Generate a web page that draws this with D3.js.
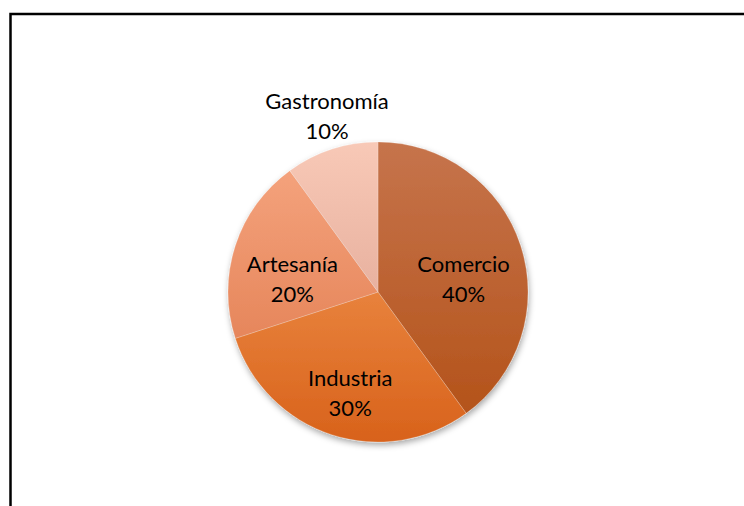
<!DOCTYPE html>
<html>
<head>
<meta charset="utf-8">
<script src="https://cdn.jsdelivr.net/npm/d3@7"></script>
<style>
  html, body { margin: 0; padding: 0; background: #fff; }
  svg { display: block; }
  .label { font-family: Lato, "Noto Sans", sans-serif; font-size: 22px; fill: #000; }
</style>
</head>
<body>
<svg id="chart"></svg>
<script>
// Data
const categories = ["Comercio", "Industria", "Artesanía", "Gastronomía"];
const shares = [40, 30, 20, 10];
const topColors = ["#c6744c", "#e8823c", "#f4a27c", "#f8c9b7"];
const bottomColors = ["#b4531a", "#d8621b", "#e6865b", "#e8b19f"];

const width = 744;
const height = 506;
const cx = 378;
const cy = 292;
const radius = 150;

const svg = d3.select("#chart")
    .attr("width", width)
    .attr("height", height);

// Frame (runs off the right and bottom edges like the original)
svg.append("rect")
    .attr("x", 10.5)
    .attr("y", 14)
    .attr("width", 900)
    .attr("height", 700)
    .attr("fill", "none")
    .attr("stroke", "#000")
    .attr("stroke-width", 2.5);

const defs = svg.append("defs");

const shadow = defs.append("filter")
    .attr("id", "shadow")
    .attr("x", "-20%").attr("y", "-20%")
    .attr("width", "140%").attr("height", "140%");
shadow.append("feDropShadow")
    .attr("dx", 1)
    .attr("dy", 3)
    .attr("stdDeviation", 3)
    .attr("flood-color", "#000")
    .attr("flood-opacity", 0.35);

categories.forEach(function(c, i) {
    const grad = defs.append("linearGradient")
        .attr("id", "grad" + i)
        .attr("x1", 0).attr("y1", 0)
        .attr("x2", 0).attr("y2", 1);
    grad.append("stop").attr("offset", "0%").attr("stop-color", topColors[i]);
    grad.append("stop").attr("offset", "100%").attr("stop-color", bottomColors[i]);
});

const data = categories.map((c, i) => ({ name: c, value: shares[i], index: i }));

const pie = d3.pie()
    .value(d => d.value)
    .sort(null);

const arcs = pie(data);

const arc = d3.arc()
    .innerRadius(0)
    .outerRadius(radius);

const insideArc = d3.arc()
    .innerRadius(radius * 0.6)
    .outerRadius(radius * 0.6);

const outsideArc = d3.arc()
    .innerRadius(radius * 1.1)
    .outerRadius(radius * 1.1);

const g = svg.append("g")
    .attr("transform", `translate(${cx},${cy})`);

g.append("g")
    .attr("filter", "url(#shadow)")
    .selectAll("path")
    .data(arcs)
    .enter().append("path")
    .attr("d", arc)
    .attr("fill", d => `url(#grad${d.data.index})`)
    .attr("stroke", "rgba(255,255,255,0.35)")
    .attr("stroke-width", 0.6);

// Labels: name and percentage, inside except the small slice
const labels = g.append("g")
    .selectAll("text")
    .data(arcs)
    .enter().append("text")
    .attr("class", "label")
    .attr("text-anchor", "middle")
    .attr("transform", d => {
        const outside = d.data.value < 15;
        const p = outside ? outsideArc.centroid(d) : insideArc.centroid(d);
        const shift = outside ? -19 : 15;
        return `translate(${p[0]},${p[1] + shift})`;
    });

labels.append("tspan")
    .attr("x", 0)
    .attr("y", -7)
    .text(d => d.data.name);

labels.append("tspan")
    .attr("x", 0)
    .attr("y", 23)
    .text(d => d.data.value + "%");
</script>
</body>
</html>
